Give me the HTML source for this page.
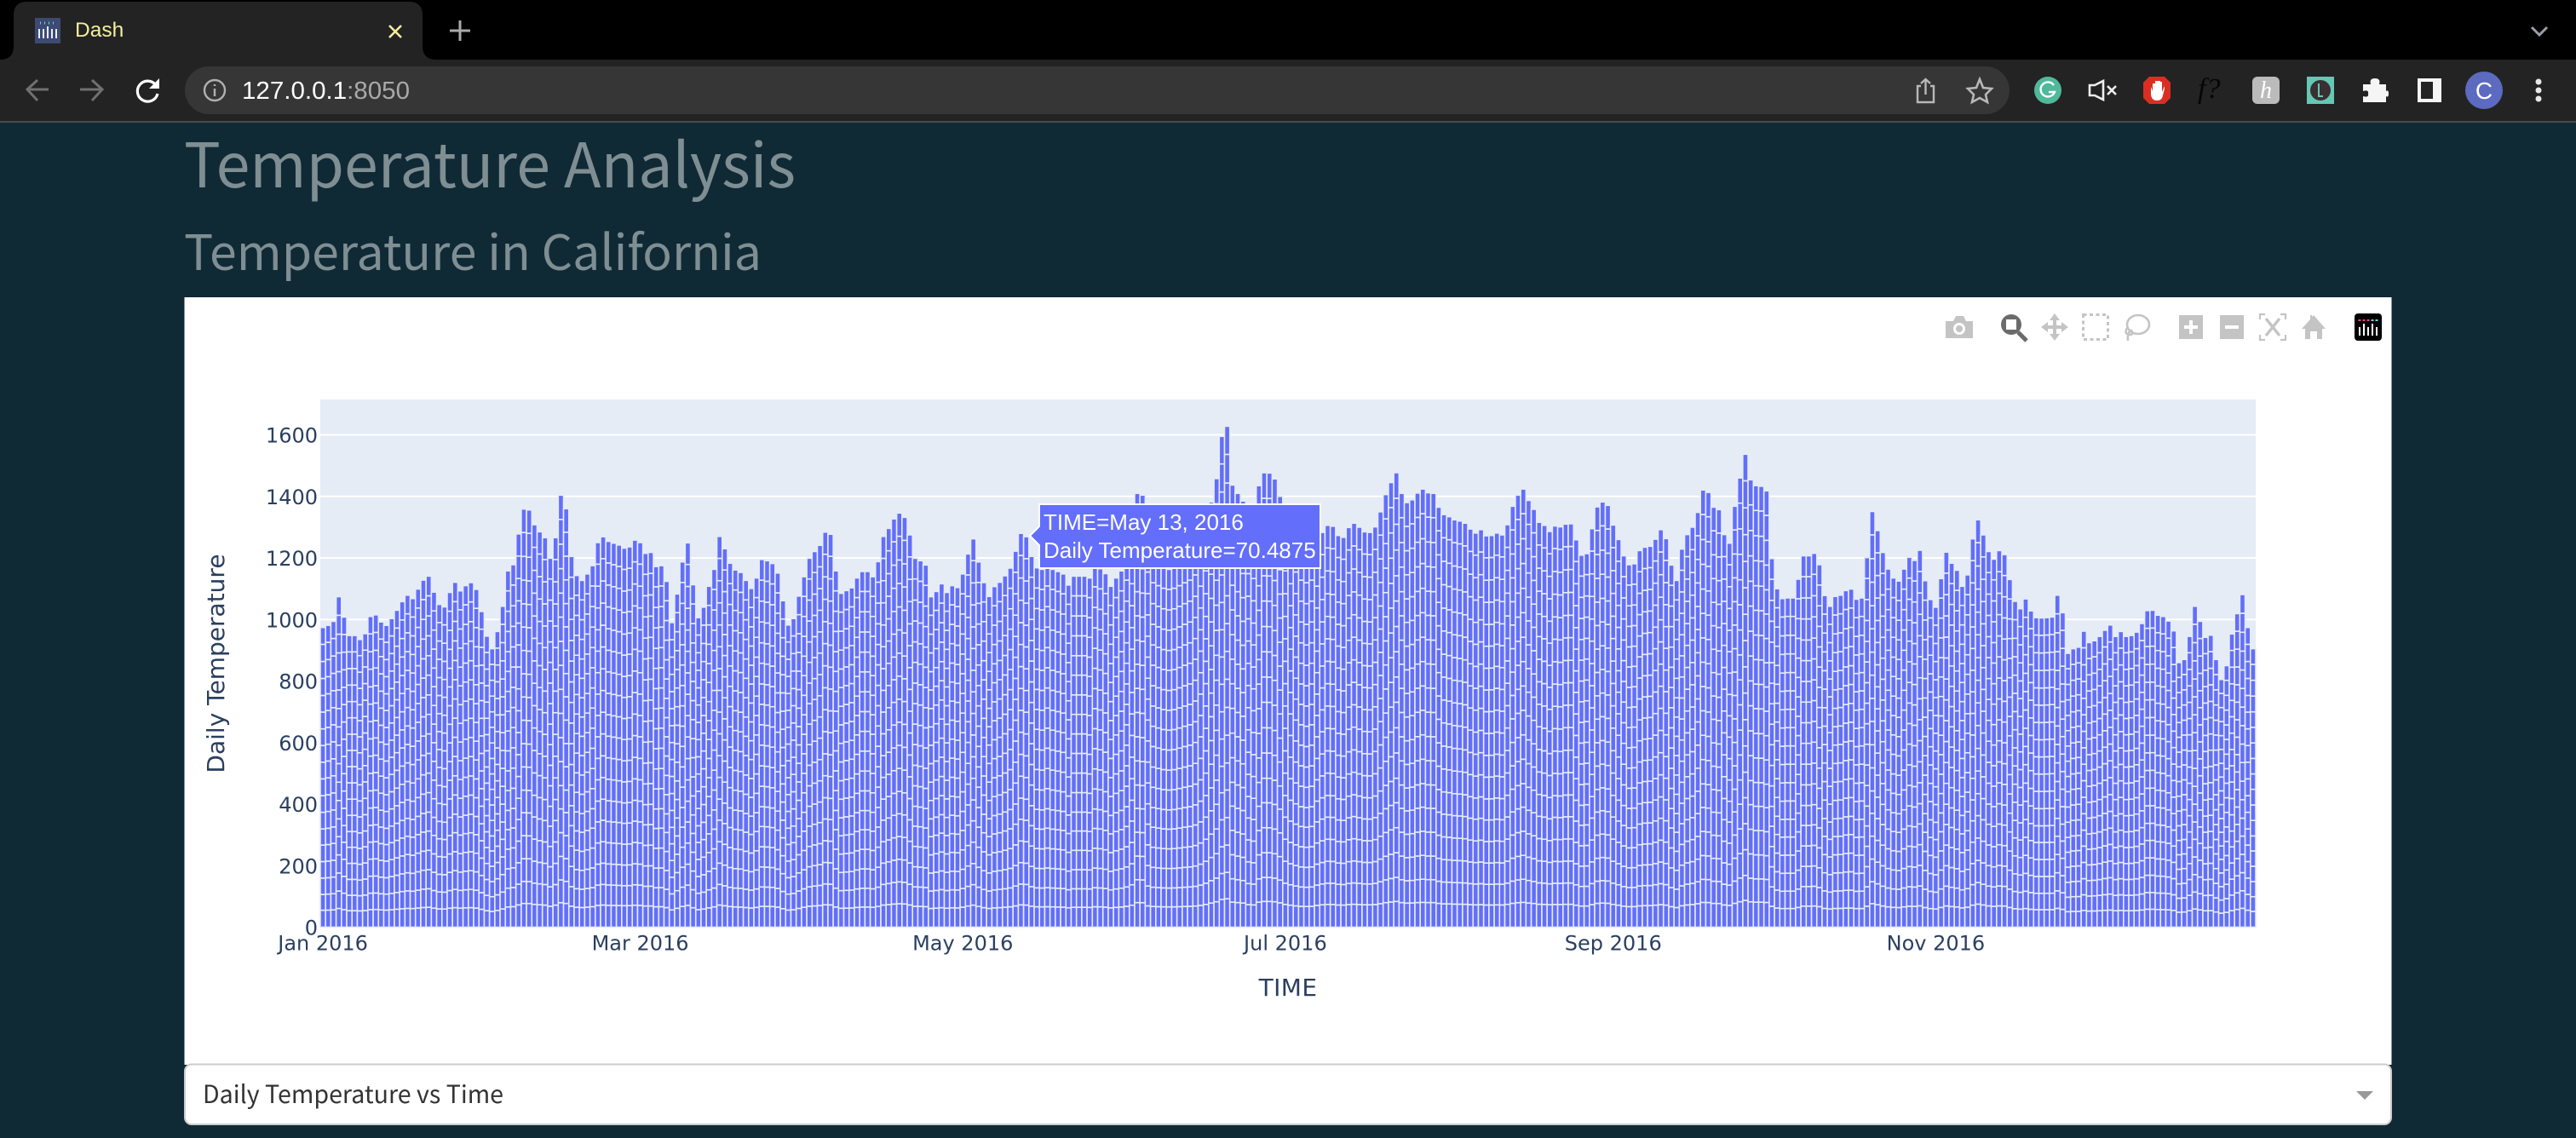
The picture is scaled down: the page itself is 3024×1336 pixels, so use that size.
<!DOCTYPE html>
<html lang="en">
<head>
<meta charset="utf-8">
<title>Dash</title>
<style>
html,body{margin:0;padding:0;background:#0f2a35;width:3024px;height:1336px;overflow:hidden}
svg{display:block}
.tick{font-family:"DejaVu Sans",sans-serif;font-size:24px;fill:#2a3f5f}
.title{font-family:"DejaVu Sans",sans-serif;font-size:28px;fill:#2a3f5f}
.head{font-family:"Noto Sans CJK JP","Liberation Sans",sans-serif;fill:#7f8e93}
.mb{fill:#c4c4c4}
</style>
</head>
<body>
<svg id="page" width="3024" height="1336" viewBox="0 0 3024 1336" xmlns="http://www.w3.org/2000/svg">
  <rect width="3024" height="1336" fill="#0f2a35"/>

  <g>
    <rect width="3024" height="70" fill="#000"/>
    <rect y="70" width="3024" height="72" fill="#232323"/>
    <rect y="142" width="3024" height="2" fill="#4a4a4a"/>
    <path d="M0 70 Q16 70 16 54 V18 Q16 2 32 2 H480 Q496 2 496 18 V54 Q496 70 512 70 Z" fill="#232323"/>
    <g>
      <rect x="41" y="21" width="30" height="30" fill="#3c4a74"/>
      <path d="M47 34v11M52 34v11M57 31v14M62 34v11M67 34v11" stroke="#e8eef5" stroke-width="2" transform="translate(-1 0)"/>
      <path d="M47 27h1M52 27h1M57 27h1M62 27h1" stroke="#78d0c0" stroke-width="3"/>
    </g>
    <text x="88" y="43" font-family="'Liberation Sans',sans-serif" font-size="24.5" fill="#f3ef9f">Dash</text>
    <path d="M457 30 L471 44 M471 30 L457 44" stroke="#f3ef9f" stroke-width="2.6" fill="none"/>
    <path d="M540 24 V48 M528 36 H552" stroke="#aaa" stroke-width="3" fill="none"/>
    <path d="M2972 32 L2981 41 L2990 32" stroke="#9aa0a6" stroke-width="3" fill="none"/>

    <path d="M57 105 H33 M44 94 L32 105 L44 118" stroke="#707070" stroke-width="3" fill="none"/>
    <path d="M94 105 H119 M108 94 L120 105 L108 118" stroke="#707070" stroke-width="3" fill="none"/>
    <g>
      <path d="M183 100 A12 12 0 1 0 185 110" stroke="#fff" stroke-width="3.2" fill="none"/>
      <path d="M187 92 V104 H175 Z" fill="#fff"/>
    </g>
    <rect x="217" y="78" width="2142" height="56" rx="28" fill="#363636"/>
    <g>
      <circle cx="252" cy="106" r="12" stroke="#b0b0b0" stroke-width="2.4" fill="none"/>
      <path d="M252 104 V113 M252 99 V101" stroke="#b0b0b0" stroke-width="2.4"/>
    </g>
    <text x="284" y="116" font-family="'Liberation Sans',sans-serif" font-size="29" fill="#fff" textLength="197" lengthAdjust="spacingAndGlyphs">127.0.0.1<tspan fill="#a9a9a9">:8050</tspan></text>
    <g stroke="#b8b8b8" stroke-width="2.4" fill="none">
      <path d="M2255 101 H2251 V120 H2270 V101 H2266"/><path d="M2260.5 111 V93 M2255 98 L2260.5 93 L2266 98"/>
    </g>
    <path d="M2324 93 L2328 103 L2338 104 L2331 111 L2333 120 L2324 115 L2315 120 L2317 111 L2310 104 L2320 103 Z" stroke="#b8b8b8" stroke-width="2.6" fill="none"/>
    <g>
      <circle cx="2404" cy="106" r="16" fill="#4fb99a"/>
      <path d="M2411 100 A8.5 8.5 0 1 0 2412 108 H2405" stroke="#fff" stroke-width="2.4" fill="none"/>
    </g>
    <g>
      <path d="M2453 100 H2459 L2469 95 V117 L2459 112 H2453 Z" stroke="#eee" stroke-width="2.6" fill="none"/>
      <path d="M2474 101 L2484 111 M2484 101 L2474 111" stroke="#eee" stroke-width="2.6"/>
    </g>
    <g>
      <path d="M2523 90 H2541 L2548 97 V115 L2541 122 H2523 L2516 115 V97 Z" fill="#d92f23"/>
      <path d="M2525 102 V111 Q2526 118 2532 118 Q2538 118 2539 112 L2541 104 V101 L2538 108 V96 H2536 V106 V95 H2533 V106 V95 H2530 V106 V98 H2527 V107 Z" fill="#fff"/>
    </g>
    <text x="2580" y="115" font-family="'Liberation Serif',serif" font-style="italic" font-size="34" fill="#060606">f?</text>
    <g>
      <rect x="2644" y="90" width="32" height="32" rx="6" fill="#bbb"/>
      <text x="2660" y="115" text-anchor="middle" font-family="'Liberation Serif',serif" font-style="italic" font-size="28" fill="#fff">h</text>
    </g>
    <g>
      <rect x="2708" y="90" width="32" height="32" fill="#65c8b5"/>
      <circle cx="2724" cy="106" r="12" fill="#3a2f33"/>
      <path d="M2722 98 V113 H2727" stroke="#65c8b5" stroke-width="2" fill="none"/>
    </g>
    <path d="M2774 99 H2783 Q2781 92 2788 92 Q2795 92 2793 99 H2801 V107 Q2804 105 2804 110 Q2804 115 2801 113 V120 H2774 V113 Q2781 115 2780 110 Q2781 105 2774 107 Z" fill="#f5f5f5"/>
    <g>
      <rect x="2838" y="92" width="28" height="28" fill="#f5f5f5"/>
      <rect x="2842" y="96" width="14" height="20" fill="#232323"/>
    </g>
    <g>
      <circle cx="2916" cy="106" r="22" fill="#5c6bc0"/>
      <text x="2916" y="116" text-anchor="middle" font-family="'Liberation Sans',sans-serif" font-size="28" fill="#fff">C</text>
    </g>
    <g fill="#e8e8e8">
      <circle cx="2980" cy="96" r="3.5"/><circle cx="2980" cy="106" r="3.5"/><circle cx="2980" cy="116" r="3.5"/>
    </g>
  </g>

  <text class="head" x="216" y="220" font-size="72" textLength="718" lengthAdjust="spacingAndGlyphs">Temperature Analysis</text>
  <text class="head" x="216" y="317" font-size="57" textLength="678" lengthAdjust="spacingAndGlyphs">Temperature in California</text>

  <rect x="216.500" y="349" width="2591" height="901" fill="#fff"/>
  <rect x="376" y="469" width="2272" height="619.5" fill="#e5ecf6"/>
  <g id="grid"></g>
  <g id="bars"></g>
  <g id="xticks"></g>
  <g id="yticks"></g>
  <text class="title" x="1512" y="1169" text-anchor="middle" letter-spacing="0.4">TIME</text>
  <text class="title" x="0" y="0" text-anchor="middle" transform="translate(263 779) rotate(-90)">Daily Temperature</text>

  <g>
    <path id="tooltipBox" d="M1209 629 L1220 618 V592 H1550 V667 H1220 V640 Z" fill="#636efa" stroke="#fff" stroke-width="2"/>
    <text x="1225" y="622" font-family="'Liberation Sans',sans-serif" font-size="26" fill="#fff">TIME=May 13, 2016</text>
    <text x="1225" y="655" font-family="'Liberation Sans',sans-serif" font-size="26" fill="#fff">Daily Temperature=70.4875</text>
  </g>

  <g>
    <g>
      <path class="mb" d="M2284 377 H2293 L2296 371 H2305 L2308 377 H2316 V397 H2284 Z"/>
      <circle cx="2300" cy="386" r="7" fill="#fff"/><circle cx="2300" cy="386" r="4" fill="#c4c4c4"/>
    </g>
    <g>
      <circle cx="2361" cy="381" r="12" fill="#6b6b6b"/>
      <rect x="2355" y="375" width="12" height="12" fill="#fff"/>
      <path d="M2369 390 L2379 400" stroke="#6b6b6b" stroke-width="5"/>
    </g>
    <path class="mb" d="M2412 368 L2418 376 H2414 V382 H2420 V378 L2428 384 L2420 390 V386 H2414 V392 H2418 L2412 400 L2406 392 H2410 V386 H2404 V390 L2396 384 L2404 378 V382 H2410 V376 H2406 Z"/>
    <rect x="2445.500" y="369.500" width="29" height="29" fill="none" stroke="#c4c4c4" stroke-width="3" stroke-dasharray="4 3.5"/>
    <g fill="none" stroke="#c4c4c4" stroke-width="2.6">
      <ellipse cx="2510" cy="381" rx="13" ry="11"/>
      <path d="M2497 385 Q2493 392 2500 393 Q2505 393 2502 388 Q2497 390 2498 400"/>
    </g>
    <g>
      <rect class="mb" x="2558" y="370" width="28" height="28"/>
      <path d="M2572 376 V392 M2564 384 H2580" stroke="#fff" stroke-width="4"/>
    </g>
    <g>
      <rect class="mb" x="2606" y="370" width="28" height="28"/>
      <path d="M2612 384 H2628" stroke="#fff" stroke-width="4"/>
    </g>
    <g fill="none" stroke="#c4c4c4" stroke-width="2.2">
      <path d="M2659 369 H2653 V375 M2677 369 H2683 V375 M2653 393 V399 H2659 M2683 393 V399 H2677"/>
      <path d="M2660 374 L2676 394 M2676 374 L2660 394" stroke-width="3.4"/>
    </g>
    <path class="mb" d="M2716 370 L2730 386 H2726 V398 H2720 V389 H2712 V398 H2706 V386 H2702 L2712 375 V370 H2714 V372 Z"/>
    <g>
      <rect x="2764" y="368" width="32" height="32" rx="4" fill="#000"/>
      <path d="M2770 384 V394 M2775 380 V394 M2780 384 V394 M2785 380 V394 M2790 384 V394" stroke="#fff" stroke-width="2"/>
      <path d="M2770 375 V377 M2775 375 V377 M2780 375 V377" stroke="#e54a7c" stroke-width="3"/>
      <path d="M2785 375 V377 M2790 375 V377" stroke="#6fd0e0" stroke-width="3"/>
    </g>
  </g>

  <g>
    <rect x="217" y="1249.500" width="2590" height="70.500" rx="8" fill="#fff" stroke="#cccccc" stroke-width="2"/>
    <text x="238" y="1295" font-family="'Noto Sans CJK JP','Liberation Sans',sans-serif" font-size="29" fill="#333" textLength="353" lengthAdjust="spacingAndGlyphs">Daily Temperature vs Time</text>
    <path d="M2766 1281 H2786 L2776 1291 Z" fill="#999"/>
  </g>
</svg>

<script>
// Daily totals, Jan 1 - Dec 31 2016 (one value per day).
var dailyTotals = [
974,981,994,1074,1008,948,948,935,954,1010,1015,992,981,1003,1030,1058,1079,1068,1099,1128,1141,1089,1049,1041,1088,1121,1093,1110,1120,1098,1026,
946,905,961,1043,1158,1178,1278,1359,1356,1308,1285,1266,1199,1266,1404,1360,1205,1143,1127,1148,1175,1250,1269,1254,1248,1242,1232,1236,1258,
1250,1215,1218,1172,1175,1124,990,1083,1187,1249,1113,1006,1040,1108,1163,1270,1230,1183,1161,1153,1127,1101,1135,1195,1191,1182,1151,1061,982,1003,1076,
1139,1199,1221,1241,1284,1277,1158,1085,1094,1103,1135,1156,1156,1139,1188,1270,1296,1327,1346,1332,1275,1199,1191,1177,1074,1091,1116,1088,1110,1104,
1148,1213,1262,1187,1120,1075,1107,1121,1142,1167,1222,1280,1269,1205,1168,1163,1175,1163,1156,1148,1112,1141,1141,1141,1135,1172,1165,1149,1108,1135,1158,
1195,1259,1410,1404,1223,1186,1176,1167,1163,1167,1176,1186,1195,1213,1250,1306,1382,1458,1595,1628,1437,1410,1385,1296,1278,1435,1477,1476,1457,1400,
1306,1259,1223,1195,1186,1195,1250,1283,1306,1303,1273,1267,1299,1313,1300,1285,1283,1301,1350,1406,1445,1477,1410,1380,1389,1411,1424,1412,1410,1365,1341,
1334,1324,1320,1313,1294,1281,1292,1272,1273,1281,1275,1308,1368,1404,1424,1387,1358,1316,1306,1286,1304,1301,1310,1311,1259,1209,1214,1295,1366,1382,1371,
1307,1260,1207,1178,1181,1224,1235,1238,1261,1292,1263,1177,1127,1229,1276,1300,1348,1421,1413,1365,1357,1276,1248,1368,1460,1537,1454,1435,1433,1418,
1198,1100,1068,1070,1070,1131,1207,1207,1215,1178,1078,1043,1075,1079,1094,1099,1066,1070,1201,1351,1289,1218,1164,1135,1125,1164,1202,1192,1225,1126,1065,
1040,1133,1219,1183,1160,1108,1145,1262,1324,1275,1221,1196,1224,1211,1130,1059,1035,1067,1028,1006,1005,1006,1008,1079,1022,890,905,910,962,925,
931,945,965,982,945,961,945,948,959,987,1029,1030,1014,1010,995,963,860,870,945,1043,994,942,949,870,805,850,953,1019,1081,974,905
];
// Relative size of each stacked segment (18 stations), bottom to top.
var stationShares = [1.02,0.95,0.98,0.99,0.99,0.97,1,1,1.01,1,1,1,1.01,1,1.02,1.02,1.03,1.01];
var xTickLabels = ['Jan 2016','Mar 2016','May 2016','Jul 2016','Sep 2016','Nov 2016'];
var xTickDays = [0,60,121,182,244,305];
var yTickValues = [0,200,400,600,800,1000,1200,1400,1600];
var yAxisMax = 1715;

var SVGNS = 'http://www.w3.org/2000/svg';
var plotLeft = 376, plotRight = 2648, plotTop = 469, plotBottom = 1088.5;
var barStep = (plotRight - plotLeft) / dailyTotals.length;
function xEdge(day){ return plotLeft + day * barStep; }
function xCenter(day){ return xEdge(day + 0.5); }
function yScale(v){ return plotBottom - (v / yAxisMax) * (plotBottom - plotTop); }

var shareSum = stationShares.reduce(function(a,b){ return a + b; }, 0);

var gridG = document.getElementById('grid');
yTickValues.forEach(function(v){
  if (v === 0) return;
  var ln = document.createElementNS(SVGNS, 'line');
  
  
  ln.setAttribute('x1', plotLeft);
  ln.setAttribute('x2', plotRight);
  ln.setAttribute('y1', yScale(v));
  ln.setAttribute('y2', yScale(v));
  ln.setAttribute('stroke', '#fff');
  ln.setAttribute('stroke-width', '2');
  gridG.appendChild(ln);
});

var barsG = document.getElementById('bars');
dailyTotals.forEach(function(total, day){
  var cum = 0;
  stationShares.forEach(function(share){
    var val = total * share / shareSum;
    var r = document.createElementNS(SVGNS, 'rect');
    
    
    r.setAttribute('x', xEdge(day));
    r.setAttribute('width', barStep);
    r.setAttribute('y', yScale(cum + val));
    r.setAttribute('height', yScale(cum) - yScale(cum + val));
    r.setAttribute('fill', '#636efa');
    r.setAttribute('stroke', '#e5ecf6');
    r.setAttribute('stroke-width', '1.6');
    barsG.appendChild(r);
    cum += val;
  });
});

var xG = document.getElementById('xticks');
xTickLabels.forEach(function(lbl, i){
  var t = document.createElementNS(SVGNS, 'text');
  
  
  t.setAttribute('class', 'tick');
  t.setAttribute('x', xCenter(xTickDays[i]));
  t.setAttribute('y', plotBottom + 27);
  t.setAttribute('text-anchor', 'middle');
  t.textContent = lbl;
  xG.appendChild(t);
});

var yG = document.getElementById('yticks');
yTickValues.forEach(function(v){
  var t = document.createElementNS(SVGNS, 'text');
  
  
  t.setAttribute('class', 'tick');
  t.setAttribute('x', plotLeft - 3);
  t.setAttribute('y', yScale(v) + 9);
  t.setAttribute('text-anchor', 'end');
  t.textContent = String(v);
  yG.appendChild(t);
});
</script>
</body>
</html>
